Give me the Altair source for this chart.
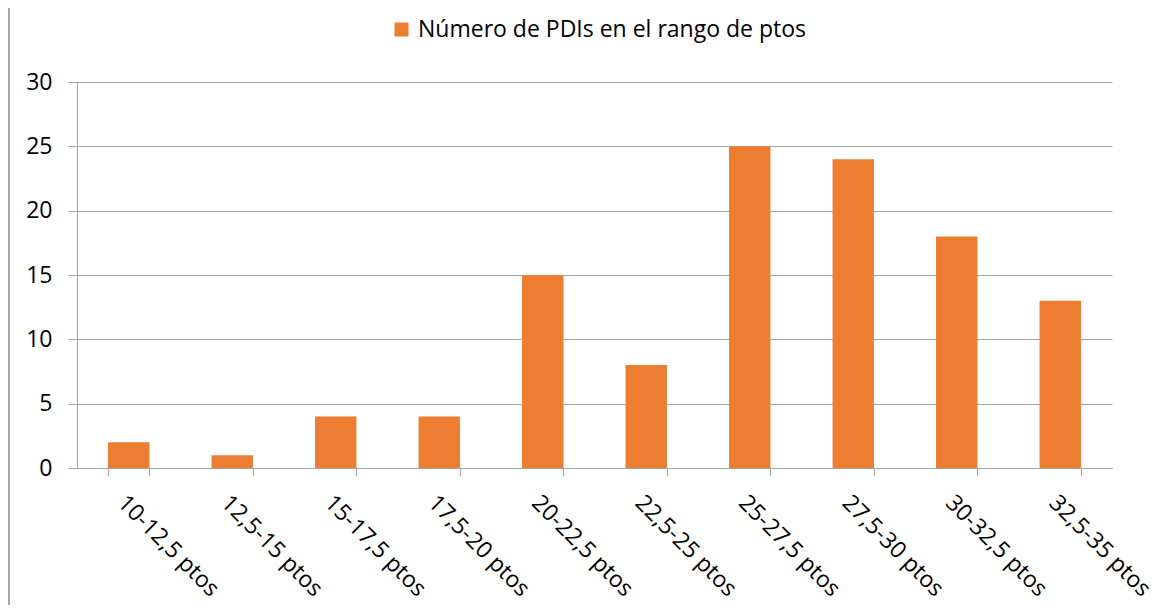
import altair as alt
import pandas as pd

categories = ["10-12,5 ptos", "12,5-15 ptos", "15-17,5 ptos", "17,5-20 ptos",
              "20-22,5 ptos", "22,5-25 ptos", "25-27,5 ptos", "27,5-30 ptos",
              "30-32,5 ptos", "32,5-35 ptos"]
values = [2, 1, 4, 4, 15, 8, 25, 24, 18, 13]
series_name = "Número de PDIs en el rango de ptos"

df = pd.DataFrame({"rango": categories, "n": values, "serie": series_name})

FONT = "Open Sans"
GRAY = "#a6a6a6"

bars = alt.Chart(df).mark_bar(color="#ED7D31").encode(
    x=alt.X("rango:N", sort=categories, title=None,
            scale=alt.Scale(paddingInner=0.6, paddingOuter=0.3),
            axis=alt.Axis(labelAngle=45, labelAlign="left", labelBaseline="top",
                          tickBand="extent", tickSize=8, tickColor=GRAY,
                          domainColor=GRAY, labelPadding=15, labelFontSize=23,
                          labelFont=FONT, labelColor="#000000", labelLimit=0)),
    y=alt.Y("n:Q", title=None,
            scale=alt.Scale(domain=[0, 30]),
            axis=alt.Axis(values=[0, 5, 10, 15, 20, 25, 30], tickSize=9,
                          tickColor=GRAY, domainColor=GRAY, gridColor=GRAY,
                          labelPadding=16, labelFontSize=23, labelFont=FONT,
                          labelColor="#000000")),
    fill=alt.Fill("serie:N", scale=alt.Scale(range=["#ED7D31"]),
                  legend=alt.Legend(title=None, orient="none", legendX=313, legendY=-64,
                                    symbolType="square", symbolSize=196,
                                    symbolStrokeWidth=0, labelFontSize=23,
                                    labelFont=FONT, labelColor="#000000",
                                    labelOffset=5, labelLimit=0)),
)

border = alt.Chart(df).mark_rule(color=GRAY, strokeWidth=2).encode(
    x=alt.value(-68), y=alt.value(-82), y2=alt.value(540)
)

chart = (bars + border).properties(
    width=1035, height=386,
    padding={"left": 69, "top": 74, "right": 49, "bottom": 137},
    autosize=alt.AutoSizeParams(type="none"),
).configure_view(stroke=None).configure_axis(grid=True).configure_axisX(grid=False)

chart.save("out.html", embed_options={"renderer": "svg", "actions": False})
